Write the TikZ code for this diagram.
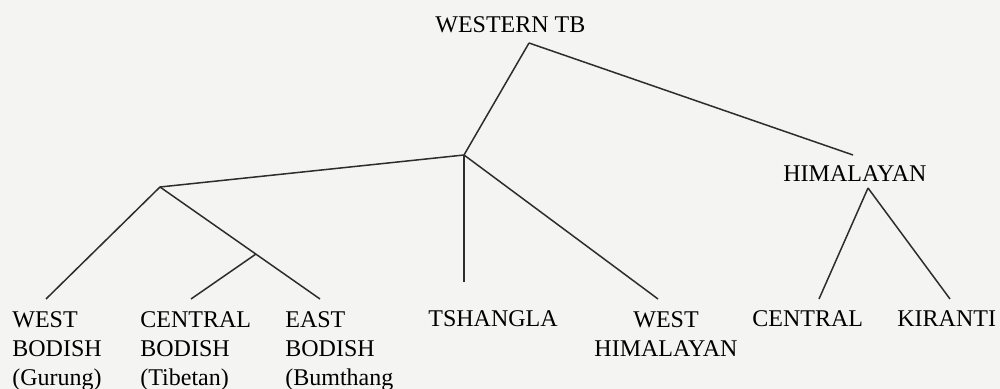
\documentclass[tikz,border=0pt]{standalone}
\usepackage{fontspec}
\setmainfont{Liberation Serif}
\definecolor{paper}{RGB}{244,244,243}
\definecolor{ink}{RGB}{45,45,45}
\begin{document}
\begin{tikzpicture}[x=0.5pt,y=-0.5pt,
  branch/.style={draw=ink,line width=0.75pt},
  lbl/.style={inner sep=0pt,font=\fontsize{12}{14.5}\selectfont,text=black},
  multi/.style={lbl,align=left,anchor=north west},
  single/.style={lbl,anchor=base west}]
\fill[paper] (0,0) rectangle (1000,389);
\useasboundingbox (0,0) rectangle (1000,389);
% labels
\node[single] (wtb) at (435,33) {WESTERN TB};
\node[single] (him) at (783,182) {HIMALAYAN};
\node[multi] (wb) at (12,311) {WEST\\BODISH\\(Gurung)};
\node[multi] (cb) at (140,311) {CENTRAL\\BODISH\\(Tibetan)};
\node[multi] (eb) at (285,311) {EAST\\BODISH\\(Bumthang};
\node[single] (ts) at (428,327) {TSHANGLA};
\node[lbl,align=center,anchor=north] (wh) at (666,311) {WEST\\HIMALAYAN};
\node[single] (ce) at (752,327) {CENTRAL};
\node[single] (ki) at (897,327) {KIRANTI};
% branch points
\coordinate (top) at (529,43);
\coordinate (n2) at (464,155);
\coordinate (n3) at (160,187);
\coordinate (n4) at (256,254);
\coordinate (hA) at (868,188);
% line ends
\coordinate (eHim) at (853,155);
\coordinate (eWB) at (46,299);
\coordinate (eCB) at (191,299);
\coordinate (eEB) at (320,299);
\coordinate (eTS) at (464,282);
\coordinate (eWH) at (658,299);
\coordinate (eCe) at (819,299);
\coordinate (eKi) at (950,299);
% connectors
\draw[branch] (top) -- (n2);
\draw[branch] (top) -- (eHim);
\draw[branch] (n2) -- (n3);
\draw[branch] (n2) -- (eTS);
\draw[branch] (n2) -- (eWH);
\draw[branch] (n3) -- (eWB);
\draw[branch] (n3) -- (eEB);
\draw[branch] (n4) -- (eCB);
\draw[branch] (hA) -- (eCe);
\draw[branch] (hA) -- (eKi);
\end{tikzpicture}
\end{document}
